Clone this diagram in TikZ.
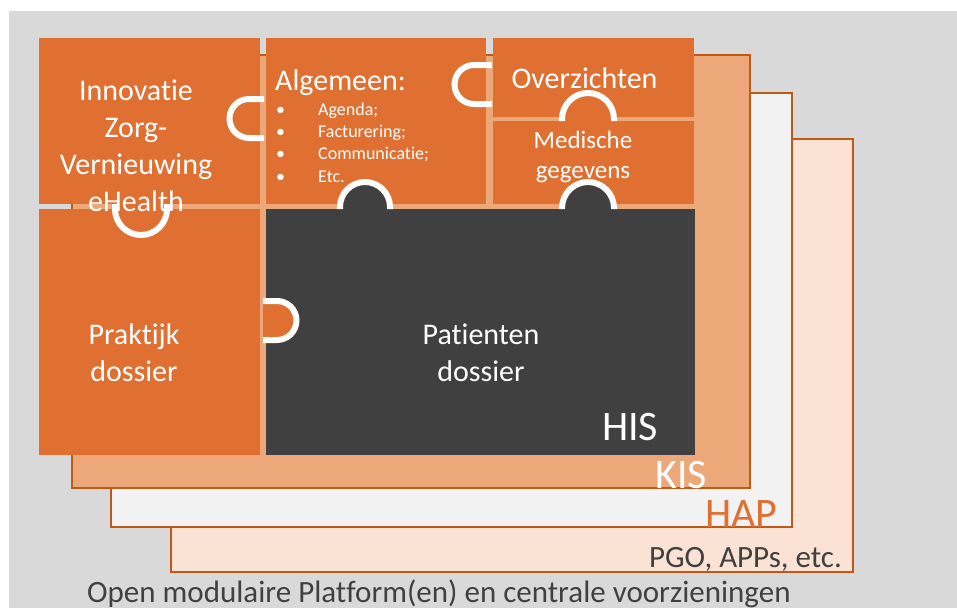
\documentclass[tikz,border=0pt]{standalone}
\usepackage{fontspec}
\setmainfont[Ligatures=NoCommon]{Carlito}
\definecolor{piece}{RGB}{224,112,50}
\definecolor{kisfill}{RGB}{236,168,120}
\definecolor{rim}{RGB}{192,88,22}
\definecolor{hapfill}{RGB}{242,242,242}
\definecolor{pgofill}{RGB}{250,226,213}
\definecolor{canvas}{RGB}{217,217,217}
\definecolor{hisdark}{RGB}{64,64,64}
\begin{document}
\begin{tikzpicture}[x=1pt,y=-1pt,every node/.style={inner sep=0pt},
  layer/.style={draw=rim,line width=2.5pt},
  knob/.style={draw=white,line width=6pt},
  big/.style={text=white,align=center,font=\fontsize{30}{37}\selectfont},
  mid/.style={text=white,align=center,font=\fontsize{25}{30}\selectfont},
  tiny/.style={text=white,align=left,font=\fontsize{18}{22.3}\selectfont},
  huge/.style={font=\fontsize{42}{50}\selectfont}]
                \useasboundingbox (0,0) rectangle (957,608);
                \fill[white] (0,0) rectangle (957,608);
                \fill[canvas] (9,11) rectangle (957,608);
                \draw[layer,fill=pgofill] (171,139) rectangle (853,572);
                \draw[layer,fill=hapfill] (111,93) rectangle (792,527);
                \draw[layer,fill=kisfill] (72,55) rectangle (750,488);
                \fill[piece] (39,38) rectangle (260,204);
                \fill[piece] (266,38) rectangle (486,204);
                \fill[piece] (493,38) rectangle (694,117);
                \fill[piece] (493,121) rectangle (694,204);
                \fill[piece] (39,209) rectangle (260,455);
                \fill[hisdark] (266,209) rectangle (695,455);
                \draw[knob] (264,99) -- (249,99) arc[start angle=270,end angle=90,radius=19.5] -- (264,138);
                \draw[knob] (492,65) -- (474,65) arc[start angle=270,end angle=90,radius=19.5] -- (492,104);
                \draw[knob,fill=piece] (263,301) -- (277,301) arc[start angle=270,end angle=450,radius=19.5] -- (263,340);
                \draw[knob,fill=piece] (562,121) -- (562,119) arc[start angle=180,end angle=360,radius=26] -- (614,121);
                \draw[knob,fill=hisdark] (562,209) -- (562,208) arc[start angle=180,end angle=360,radius=26] -- (614,209);
                \draw[knob,fill=hisdark] (340,209) -- (340,207) arc[start angle=180,end angle=360,radius=25] -- (390,209);
                \draw[knob,fill=piece] (115,204) -- (115,209) arc[start angle=180,end angle=0,radius=26] -- (167,204);
                \node[big] (innov) at (136,146) {Innovatie\\Zorg-\\Vernieuwing\\eHealth};
                \node[big,anchor=base west,align=left] (algemeen) at (275,90) {Algemeen:};
                \node[tiny,anchor=north west] (lijst) at (276,102.5) {\makebox[42pt][l]{\textbullet}Agenda;\\
                  \makebox[42pt][l]{\textbullet}Facturering;\\
                  \makebox[42pt][l]{\textbullet}Communicatie;\\
                  \makebox[42pt][l]{\textbullet}Etc.};
                \node[big,anchor=base] (overz) at (584.5,88) {Overzichten};
                \node[mid] (medisch) at (583,157) {Medische\\gegevens};
                \node[big] (praktijk) at (134,353) {Praktijk\\dossier};
                \node[big] (patient) at (481,353) {Patienten\\dossier};
                \node[huge,text=white,anchor=base west] (his) at (602,440) {HIS};
                \node[huge,text=white,anchor=base west] (kis) at (655,488) {KIS};
                \node[huge,text=piece,anchor=base west] (hap) at (705,527) {HAP};
                \node[text=hisdark,font=\fontsize{31}{37}\selectfont,anchor=base east] (pgo) at (842,567) {PGO, APPs, etc.};
                \node[text=hisdark,font=\fontsize{31}{37}\selectfont,anchor=base west] (platform) at (87,602) {Open modulaire Platform(en) en centrale voorzieningen};
            \end{tikzpicture}
\end{document}
